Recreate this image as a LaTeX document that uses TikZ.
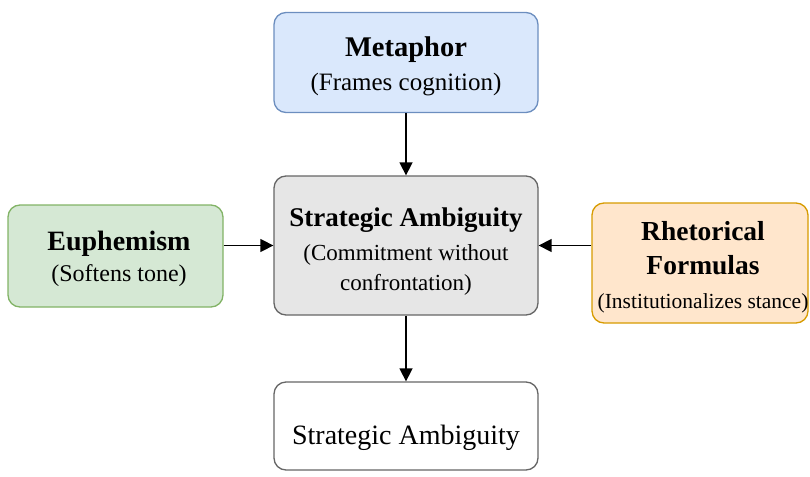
\documentclass[tikz,border=0pt]{standalone}
\usepackage{fontspec}
\setmainfont{Liberation Serif}
\usetikzlibrary{arrows.meta}
\definecolor{blueFill}{HTML}{DAE8FC}
\definecolor{blueLine}{HTML}{6C8EBF}
\definecolor{greenFill}{HTML}{D5E8D4}
\definecolor{greenLine}{HTML}{82B366}
\definecolor{orangeFill}{HTML}{FFE6CC}
\definecolor{orangeLine}{HTML}{D79B00}
\definecolor{grayFill}{HTML}{E6E6E6}
\definecolor{grayLine}{HTML}{666666}
\tikzset{
  box/.style={draw, rounded corners=12pt, line width=1.3pt, inner sep=0pt},
  txt/.style={align=center, inner sep=0pt},
  arr/.style={-{Triangle[length=13pt,width=13pt]}, line width=1.5pt, black},
}
\newcommand{\ttl}[3]{{\fontsize{#1}{#2}\selectfont\bfseries #3}}
\begin{document}
\begin{tikzpicture}[x=1pt,y=-1pt]
\useasboundingbox (0,0) rectangle (810,476);
\node[box, fill=blueFill, draw=blueLine, minimum width=264pt, minimum height=100pt,
  label={[txt, font=\fontsize{25}{34}\selectfont, yshift=-4pt]center:{\ttl{28.5}{34}{Metaphor}\\(Frames cognition)}}]
  (met) at (406,62.5) {};
\node[box, fill=grayFill, draw=grayLine, minimum width=264pt, minimum height=139pt,
  label={[txt, font=\fontsize{23}{34}\selectfont, yshift=-6pt]center:{\ttl{27}{34}{Strategic Ambiguity}\\(Commitment without\\[-4pt]confrontation)}}]
  (ctr) at (406,245.5) {};
\node[box, fill=white, draw=grayLine, minimum width=264pt, minimum height=88pt,
  label={[txt, font=\fontsize{28}{34}\selectfont, yshift=-12pt]center:{Strategic Ambiguity}}]
  (bot) at (406,426) {};
\node[box, fill=greenFill, draw=greenLine, minimum width=215pt, minimum height=102pt,
  label={[txt, font=\fontsize{24}{31}\selectfont, yshift=-3pt, xshift=3.5pt]center:{\ttl{28}{31}{Euphemism}\\(Softens tone)}}]
  (eup) at (115.5,256) {};
\node[box, fill=orangeFill, draw=orangeLine, minimum width=216pt, minimum height=120pt,
  label={[txt, font=\fontsize{21.5}{34}\selectfont, yshift=-4pt, xshift=3pt]center:{\ttl{27.5}{34}{Rhetorical}\\\ttl{27.5}{34}{Formulas}\\(Institutionalizes stance)}}]
  (rhe) at (700,263) {};
\draw[arr] (met.south) -- (ctr.north);
\draw[arr] (ctr.south) -- (bot.north);
\draw[arr] (eup.east |- ctr.west) -- (ctr.west);
\draw[arr] (rhe.west |- ctr.east) -- (ctr.east);
\end{tikzpicture}
\end{document}
